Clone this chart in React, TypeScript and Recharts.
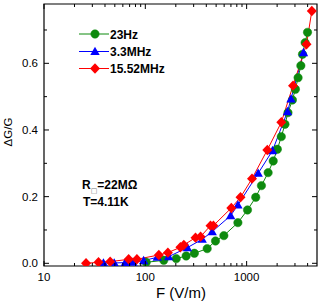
import React from "react";
import {
  Customized,
  Line,
  LineChart,
  ReferenceArea,
  XAxis,
  YAxis,
} from "recharts";

// 23 Hz
const fGreen = [102, 152, 202, 253, 305, 408, 493, 596, 820, 1020, 1230, 1400, 1630, 1830, 2010, 2200, 2390, 2560, 2830, 3030, 3220, 3430, 3560, 3780, 3990];
const gGreen = [0.003, 0.009, 0.014, 0.022, 0.03, 0.044, 0.067, 0.083, 0.122, 0.16, 0.198, 0.233, 0.272, 0.307, 0.342, 0.38, 0.417, 0.452, 0.49, 0.522, 0.557, 0.593, 0.627, 0.662, 0.693];

// 3.3 MHz
const fBlue = [38.6, 49.3, 63.4, 75.5, 96.3, 131, 170, 260, 364, 457, 695, 820, 1300, 1800, 2530, 2740, 3640];
const gBlue = [0.001, 0.001, 0.002, 0.003, 0.008, 0.018, 0.02, 0.047, 0.072, 0.095, 0.143, 0.175, 0.27, 0.338, 0.455, 0.493, 0.632];

// 15.52 MHz
const fRed = [26, 34.5, 45, 68.5, 82.6, 136, 167, 222, 240, 313, 351, 440, 470, 706, 870, 1130, 1600, 2200, 2870, 3900, 4400];
const gRed = [0.0, 0.003, 0.005, 0.012, 0.012, 0.025, 0.032, 0.048, 0.055, 0.077, 0.08, 0.113, 0.113, 0.166, 0.198, 0.254, 0.34, 0.423, 0.533, 0.657, 0.757];

const xMajor = [10, 100, 1000];
const xTicks = [10, 20, 30, 40, 50, 60, 70, 80, 90, 100, 200, 300, 400, 500, 600, 700, 800, 900, 1000, 2000, 3000, 4000];
const yTicks = [0, 0.1, 0.2, 0.3, 0.4, 0.5, 0.6, 0.7];

const seriesNames = ["23Hz", "3.3MHz", "15.52MHz"];

const GREEN = "#0d8a0d";
const BLUE = "#0000ff";
const RED = "#ff0000";
const FONT = "'Liberation Sans', Arial, sans-serif";

const W = 325;
const H = 301;
const LEFT = 44;
const RIGHT = 317;
const TOP = 4;

const green = fGreen.map((f, i) => ({ f, v: gGreen[i] }));
const blue = fBlue.map((f, i) => ({ f, v: gBlue[i] }));
const red = fRed.map((f, i) => ({ f, v: gRed[i] }));

const circle = (cx: number, cy: number, key?: any) => (
  <circle key={key} cx={cx} cy={cy} r={4.2} fill={GREEN} stroke={GREEN} strokeWidth={0.5} />
);
const tri = (cx: number, cy: number, key?: any) => (
  <polygon
    key={key}
    points={`${cx},${cy - 4.8} ${cx - 4.7},${cy + 3.5} ${cx + 4.7},${cy + 3.5}`}
    fill={BLUE}
  />
);
const diamond = (cx: number, cy: number, key?: any) => (
  <polygon
    key={key}
    points={`${cx},${cy - 5.2} ${cx + 5},${cy} ${cx},${cy + 5.2} ${cx - 5},${cy}`}
    fill={RED}
  />
);

const XTick = (props: any) => {
  const { x, y, payload } = props;
  const major = xMajor.includes(payload.value);
  const len = major ? 5 : 3;
  return (
    <g>
      <line x1={x} y1={y} x2={x} y2={y - len} stroke="#000" />
      <line x1={x} y1={TOP} x2={x} y2={TOP + len} stroke="#000" />
      {major && (
        <text x={x} y={y + 15} textAnchor="middle" fontSize={11.5} fontFamily={FONT} fill="#000">
          {payload.value}
        </text>
      )}
    </g>
  );
};

const YTick = (props: any) => {
  const { x, y, payload } = props;
  const major = Math.round(payload.value * 10) % 2 === 0;
  const len = major ? 5 : 3;
  return (
    <g>
      <line x1={x} y1={y} x2={x + len} y2={y} stroke="#000" />
      <line x1={RIGHT} y1={y} x2={RIGHT - len} y2={y} stroke="#000" />
      {major && (
        <text x={x - 6} y={y + 4} textAnchor="end" fontSize={11.5} fontFamily={FONT} fill="#000">
          {payload.value.toFixed(1)}
        </text>
      )}
    </g>
  );
};

const Extras = () => {
  const markers = [circle, tri, diamond];
  const colors = [GREEN, BLUE, RED];
  const rows = [34, 51.5, 68.5];
  return (
    <g fontFamily={FONT}>
      {seriesNames.map((name, i) => (
        <g key={name}>
          <line x1={79} y1={rows[i]} x2={109} y2={rows[i]} stroke={colors[i]} />
          {markers[i](95, rows[i])}
          <text x={110} y={rows[i] + 4.5} fontSize={12} fontWeight="bold" fill="#000">
            {name}
          </text>
        </g>
      ))}
      <text x={82} y={189} fontSize={12} fontWeight="bold" fill="#000">
        R
        <tspan fontSize={7} fontWeight="normal" fontFamily="'DejaVu Sans'" dy={4} fill="#777">□</tspan>
        <tspan dy={-4}>=22MΩ</tspan>
      </text>
      <text x={83} y={206} fontSize={12} fontWeight="bold" fill="#000">
        T=4.11K
      </text>
      <text
        x={8}
        y={132}
        fontSize={11.5}
        textAnchor="middle"
        dominantBaseline="central"
        transform="rotate(-90 8 132)"
        fill="#000"
      >
        ΔG/G
      </text>
      <text x={181} y={298} fontSize={15} textAnchor="middle" fill="#000">
        F (V/m)
      </text>
    </g>
  );
};

export default function App() {
  return (
    <div style={{ position: "absolute", left: 0, top: 0, width: W, height: H, background: "#fff" }}>
      <LineChart width={W} height={H} margin={{ top: TOP, right: W - RIGHT, bottom: 0, left: 0 }}>
        <XAxis
          dataKey="f"
          type="number"
          scale="log"
          domain={[10, 4950]}
          allowDataOverflow
          ticks={xTicks}
          interval={0}
          height={35}
          tickSize={0}
          tickMargin={0}
          tickLine={false}
          axisLine={false}
          tick={<XTick />}
        />
        <YAxis
          dataKey="v"
          type="number"
          domain={[-0.0081, 0.778]}
          allowDataOverflow
          ticks={yTicks}
          interval={0}
          width={LEFT}
          tickSize={0}
          tickMargin={0}
          tickLine={false}
          axisLine={false}
          tick={<YTick />}
        />
        <ReferenceArea x1={10} x2={4950} y1={-0.0081} y2={0.778} fill="none" stroke="#000" strokeWidth={1.2} />
        <Line
          data={green}
          dataKey="v"
          stroke={GREEN}
          strokeWidth={1}
          isAnimationActive={false}
          dot={(p: any) => circle(p.cx, p.cy, `g${p.index}`)}
        />
        <Line
          data={blue}
          dataKey="v"
          stroke={BLUE}
          strokeWidth={1}
          isAnimationActive={false}
          dot={(p: any) => tri(p.cx, p.cy, `b${p.index}`)}
        />
        <Line
          data={red}
          dataKey="v"
          stroke={RED}
          strokeWidth={1}
          isAnimationActive={false}
          dot={(p: any) => diamond(p.cx, p.cy, `r${p.index}`)}
        />
        <Customized component={Extras} />
      </LineChart>
    </div>
  );
}
